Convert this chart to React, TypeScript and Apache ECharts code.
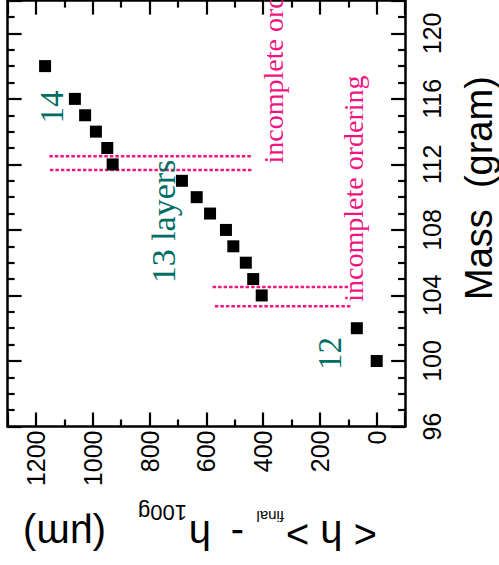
import React, { useEffect, useRef } from "react";
import * as echarts from "echarts";

// Data: mass (gram) vs <h>final - h100g (μm)
const massValues = [118, 116, 115, 114, 113, 112, 111, 110, 109, 108, 107, 106, 105, 104, 102, 100];
const hValues = [1168, 1063, 1027, 989, 949, 930, 686, 634, 587, 531, 505, 461, 435, 405, 70, 0];

// Tick labels
const massTickLabels = ["96", "100", "104", "108", "112", "116", "120"];
const hTickLabels = ["0", "200", "400", "600", "800", "1000", "1200"];

// Dotted "incomplete ordering" segments (constant mass)
const orderingMasses = [112.5, 111.66, 104.52, 103.34];
const orderingStartH = [1153, 1151, 578, 570];
const orderingEndH = [443, 439, 94, 88];

// Annotations
const annotationTexts = ["14", "13 layers", "12", "incomplete ordering", "incomplete ordering"];
const annotationH = [1142, 752, 163, 362, 81];
const annotationMass = [114.5, 104.74, 99.45, 112.06, 103.62];
const annotationKinds = ["layer", "layer", "layer", "order", "order"];

export default function App() {
  const ref = useRef<HTMLDivElement>(null);

  useEffect(() => {
    if (!ref.current) return;
    const chart = echarts.init(ref.current, null, { renderer: "svg" });
    const sans = "Liberation Sans";
    const serif = "Liberation Serif";
    const teal = "#006d64";
    const magenta = "#f0157f";

    const lineStyle = { color: "#000", width: 2.5 };
    const tickStyle = { color: "#000", width: 2.2 };

    const hAxisBase: any = {
      type: "value",
      min: -100,
      max: 1300,
      splitNumber: 7,
      inverse: true,
      axisLine: { show: true, onZero: false, lineStyle },
      axisTick: { show: true, inside: true, length: 14, lineStyle: tickStyle },
      minorTick: { show: true, splitNumber: 2, length: 7, lineStyle: tickStyle },
      splitLine: { show: false },
      minorSplitLine: { show: false },
    };
    const massAxisBase: any = {
      type: "value",
      min: 96,
      max: 122,
      interval: 4,
      axisLine: { show: true, onZero: false, lineStyle },
      axisTick: { show: true, inside: true, length: 14, lineStyle: tickStyle },
      minorTick: { show: true, splitNumber: 4, length: 7, lineStyle: tickStyle },
      splitLine: { show: false },
      minorSplitLine: { show: false },
    };

    const dottedSeries = orderingMasses.map((m, i) => ({
      type: "line",
      xAxisIndex: 0,
      yAxisIndex: 0,
      data: [
        [orderingStartH[i], m],
        [orderingEndH[i], m],
      ],
      symbol: "none",
      silent: true,
      lineStyle: { color: magenta, width: 2.5, type: [3.5, 2], opacity: 1 },
      z: 2,
    }));

    const annotationData = annotationTexts.map((t, i) => {
      const isLayer = annotationKinds[i] === "layer";
      return {
        value: [annotationH[i], annotationMass[i]],
        label: {
          show: true,
          formatter: t,
          position: "inside",
          rotate: 90,
          align: "left",
          verticalAlign: "middle",
          fontFamily: serif,
          fontSize: isLayer ? (t.length > 2 ? 34 : 33) : 28,
          color: isLayer ? teal : magenta,
          opacity: 1,
        },
      };
    });

    chart.setOption({
      animation: false,
      backgroundColor: "#fff",
      grid: {
        left: 7.6,
        right: 93.9,
        top: 0.6,
        bottom: 138.5,
        containLabel: false,
        outerBoundsMode: "none",
      },
      xAxis: [
        {
          ...hAxisBase,
          position: "bottom",
          axisLabel: {
            show: true,
            rotate: 90,
            margin: 4,
            fontSize: 25,
            fontFamily: sans,
            color: "#000",
            formatter: (v: number) => (hTickLabels.includes(String(v)) ? String(v) : ""),
          },
        },
        {
          ...hAxisBase,
          position: "top",
          axisLabel: { show: false },
        },
      ],
      yAxis: [
        {
          ...massAxisBase,
          position: "right",
          axisLabel: {
            show: true,
            rotate: 90,
            margin: 14,
            fontSize: 25,
            fontFamily: sans,
            color: "#000",
            formatter: (v: number) => (massTickLabels.includes(String(v)) ? String(v) : ""),
          },
        },
        {
          ...massAxisBase,
          position: "left",
          axisLabel: { show: false },
        },
      ],
      series: [
        ...dottedSeries,
        {
          type: "scatter",
          xAxisIndex: 0,
          yAxisIndex: 0,
          symbol: "rect",
          symbolSize: 12,
          itemStyle: { color: "#000", opacity: 1 },
          data: hValues.map((h, i) => [h, massValues[i]]),
          z: 3,
        },
        {
          type: "scatter",
          xAxisIndex: 0,
          yAxisIndex: 0,
          symbolSize: 1,
          silent: true,
          itemStyle: { color: "rgba(0,0,0,0)", opacity: 1 },
          data: annotationData,
          z: 4,
        },
      ],
      graphic: [
        {
          type: "text",
          x: 478.5,
          y: 300,
          rotation: Math.PI / 2,
          style: {
            text: "Mass  (gram)",
            fontSize: 38,
            fontFamily: sans,
            fill: "#000",
            align: "left",
            verticalAlign: "middle",
          },
        },
        {
          type: "group",
          x: 377,
          y: 521,
          rotation: Math.PI,
          children: [
            { type: "text", x: 0, y: -14, style: { text: "< h >", fontSize: 40, fontFamily: sans, fill: "#000", align: "left", verticalAlign: "middle" } },
            { type: "text", x: 93, y: 5, style: { text: "final", fontSize: 15, fontFamily: sans, fill: "#000", align: "left", verticalAlign: "middle" } },
            { type: "text", x: 133, y: -14, style: { text: "-", fontSize: 40, fontFamily: sans, fill: "#000", align: "left", verticalAlign: "middle" } },
            { type: "text", x: 166, y: -14, style: { text: "h", fontSize: 40, fontFamily: sans, fill: "#000", align: "left", verticalAlign: "middle" } },
            { type: "text", x: 190, y: 8.3, style: { text: "100g", fontSize: 22, fontFamily: sans, fill: "#000", align: "left", verticalAlign: "middle" } },
            { type: "text", x: 271, y: -14, style: { text: "(μm)", fontSize: 40, fontFamily: sans, fill: "#000", align: "left", verticalAlign: "middle" } },
          ],
        },
      ],
    });

    return () => chart.dispose();
  }, []);

  return (
    <div
      ref={ref}
      style={{ position: "absolute", left: 0, top: 0, width: 499, height: 565 }}
    />
  );
}
